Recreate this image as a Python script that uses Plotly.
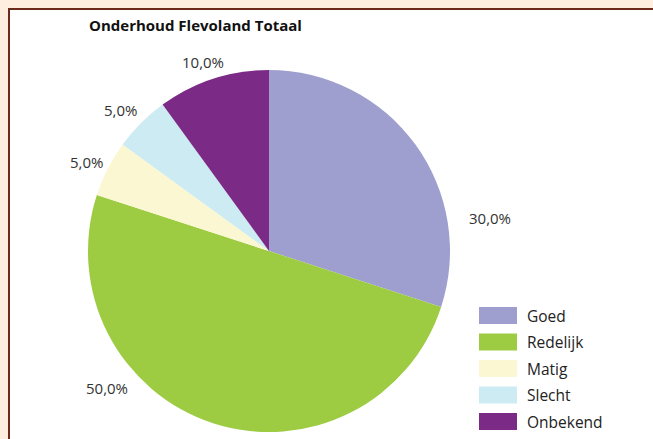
import plotly.graph_objects as go

categories = ["Goed", "Redelijk", "Matig", "Slecht", "Onbekend"]
values = [30.0, 50.0, 5.0, 5.0, 10.0]
colors = ["#9e9fcf", "#9dcb42", "#faf7d2", "#cdebf2", "#7b2a85"]
# label anchor positions (paper coords) for the outside percentage labels
label_pos = [(0.750, 0.503), (0.164, 0.116), (0.132, 0.631), (0.184, 0.749), (0.311, 0.859)]

W, H = 653, 439
fig = go.Figure()
fig.add_trace(go.Pie(
    labels=categories, values=values, sort=False, direction="clockwise", rotation=0,
    marker=dict(colors=colors, line=dict(width=0)),
    textinfo="none", hoverinfo="label+percent", showlegend=False,
    domain=dict(x=[88 / W, 450 / W], y=[1 - 432 / H, 1 - 70 / H]),
))

total = sum(values)
annotations = []
for v, (x, y) in zip(values, label_pos):
    annotations.append(dict(
        text=f"{v / total * 100:.1f}%".replace(".", ","), x=x, y=y, xref="paper", yref="paper",
        showarrow=False, xanchor="center", yanchor="middle",
        font=dict(family="Open Sans", size=15, color="#333333"),
    ))
annotations.append(dict(
    text="<b>Onderhoud Flevoland Totaal</b>", x=87 / W, y=1 - 25 / H, xref="paper", yref="paper",
    showarrow=False, xanchor="left", yanchor="middle",
    font=dict(family="Open Sans", size=15, color="#111111"),
))

shapes = [dict(type="rect", xref="paper", yref="paper", x0=9 / W, y0=-0.5, x1=1.5, y1=1 - 9 / H,
               fillcolor="#ffffff", line=dict(color="#6b2a1a", width=2), layer="below")]

# custom legend
leg_x0, leg_x1, leg_top, leg_step, sw_h = 479, 517, 307, 26.5, 17
for i, (cat, col) in enumerate(zip(categories, colors)):
    top = leg_top + i * leg_step
    shapes.append(dict(type="rect", xref="paper", yref="paper",
                       x0=leg_x0 / W, x1=leg_x1 / W, y0=1 - (top + sw_h) / H, y1=1 - top / H,
                       fillcolor=col, line=dict(width=0)))
    annotations.append(dict(text=cat, x=525 / W, y=1 - (top + sw_h / 2) / H, xref="paper", yref="paper",
                            showarrow=False, xanchor="left", yanchor="middle",
                            font=dict(family="Open Sans", size=15.5, color="#222222")))

fig.update_layout(
    width=W, height=H,
    margin=dict(l=0, r=0, t=0, b=0),
    paper_bgcolor="#fdeee0",
    plot_bgcolor="#ffffff",
    showlegend=False,
    annotations=annotations,
    shapes=shapes,
)
fig.write_html("out.html", config={"displayModeBar": False},
               post_script="document.body.style.margin='0';document.body.style.overflow='hidden';")
